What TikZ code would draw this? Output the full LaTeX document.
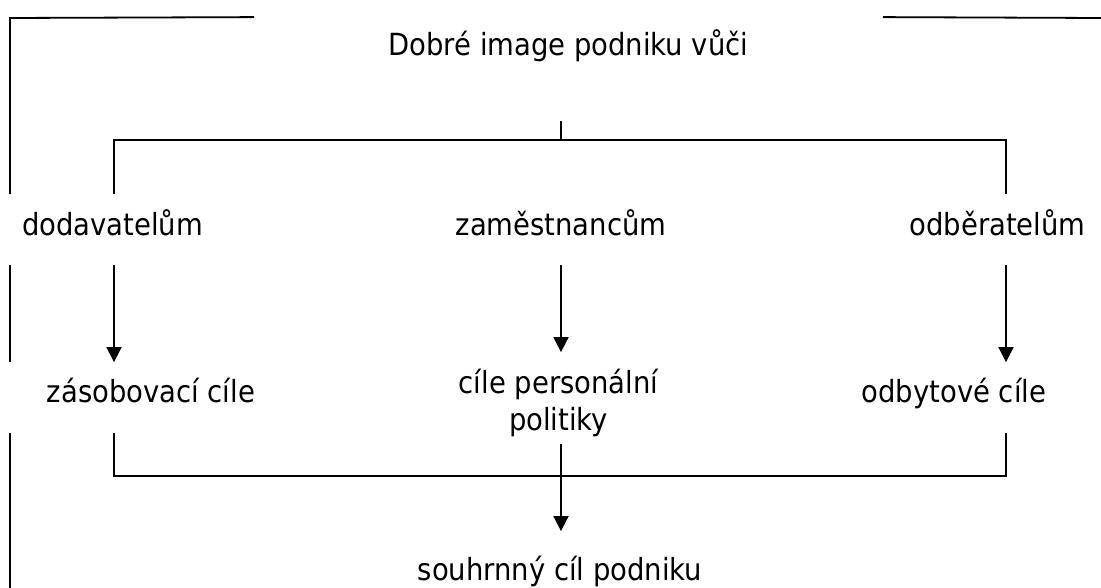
\documentclass[tikz,border=0pt]{standalone}
\usepackage{fontspec}
\IfFontExistsTF{DejaVu Sans Condensed}{\setmainfont{DejaVu Sans Condensed}\newcommand\myfsz{30.5}}{\setmainfont{DejaVu Sans}\newcommand\myfsz{27.5}}
\usetikzlibrary{arrows.meta}
\begin{document}
\begin{tikzpicture}[x=1pt,y=-1pt,line width=1.8pt,
  lbl/.style={inner sep=0pt,anchor=base,font=\fontsize{\myfsz}{37}\selectfont},
  arr/.style={-{Triangle[length=15pt,width=15pt]}}]
\useasboundingbox (0,0) rectangle (1101,588);
% nodes
\node[lbl,text height=38pt,text depth=64pt,minimum width=627pt] (title) at (568.5,56) {Dobré image podniku vůči};
\node[lbl,text height=41pt,text depth=28pt] (dod) at (112.5,236) {dodavatelům};
\node[lbl,text height=41pt,text depth=28pt] (zam) at (561,236) {zaměstnancům};
\node[lbl,text height=41pt,text depth=28pt] (odb) at (997.5,236) {odběratelům};
\node[lbl,text height=39pt,text depth=30pt] (zas) at (151,402) {zásobovací cíle};
\node[lbl,text height=40pt,text depth=50pt] (per) at (558.5,393) {\begin{tabular}[t]{@{}c@{}}cíle personální\\politiky\end{tabular}};
\node[lbl,text height=39pt,text depth=30pt] (odc) at (954,402) {odbytové cíle};
\node[lbl,text height=48pt,text depth=8pt] (sou) at (560,580) {souhrnný cíl podniku};
% helper coordinates
\coordinate (cL) at (114,0);
\coordinate (cM) at (561,0);
\coordinate (cR) at (1006,0);
\coordinate (bar1) at (561,140);
\coordinate (bar2) at (561,476);
\coordinate (fTL) at (10,18);
\coordinate (fB) at (10,588);
\coordinate (fTR) at (1101,18);
% frame
\draw (title.north west) -- (fTL) -- (fTL |- dod.north);
\draw (fTL |- dod.south) -- (fTL |- zas.north);
\draw (fTL |- zas.south) -- (fB);
\draw (title.north east) -- (fTR);
% connectors
\draw (title.south -| cM) -- (bar1);
\draw (cL |- dod.north) |- (bar1) -| (cR |- odb.north);
\draw[arr] (cL |- dod.south) -- (cL |- zas.north);
\draw[arr] (cM |- zam.south) -- (cM |- per.north);
\draw[arr] (cR |- odb.south) -- (cR |- odc.north);
\draw (cL |- zas.south) |- (bar2) -| (cR |- odc.south);
\draw[arr] (cM |- per.south) -- (cM |- sou.north);
\end{tikzpicture}
\end{document}
